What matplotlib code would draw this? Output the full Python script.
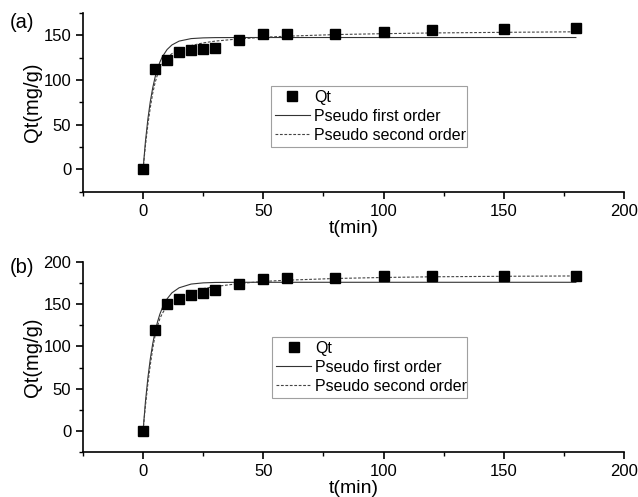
import matplotlib
matplotlib.use("Agg")
import matplotlib.pyplot as plt
from matplotlib.ticker import MultipleLocator

plt.rcParams['font.family'] = ['Liberation Sans', 'DejaVu Sans']

# ---- measured points ----
t_data = [0, 5, 10, 15, 20, 25, 30, 40, 50, 60, 80, 100, 120, 150, 180]
qt_a = [0, 112, 122.5, 131.7, 133, 134.7, 135.8, 144.4, 151, 151, 151.5, 154, 155.6, 157, 158.6]
qt_b = [0, 119.4, 149.8, 156.4, 161.1, 163.9, 166.7, 174.4, 180, 181.5, 181.5, 183, 183, 183, 183.5]

# ---- fitted curves ----
t_fit = [0, 1, 2, 3, 4, 5, 6, 7, 8, 10, 12, 15, 20, 25, 30, 40, 50, 60, 80, 100, 120, 150, 180]
first_a = [0, 31.5, 56.2, 75.7, 91.0, 103.1, 112.6, 120.0, 125.9, 134.1, 139.2, 143.5, 146.3, 147.1,
           147.4, 147.5, 147.5, 147.5, 147.5, 147.5, 147.5, 147.5, 147.5]
second_a = [0, 27, 50, 69, 85, 97, 106, 113, 118, 125, 129.5, 134, 138.5, 141.5,
            143.5, 146, 147.8, 149, 150.8, 151.8, 152.6, 153.3, 153.9]
first_b = [0, 34.8, 62.6, 85.0, 102.9, 117.4, 129.0, 138.3, 145.7, 156.4, 163.5, 169.5, 173.9, 175.3,
           175.8, 176, 176, 176, 176, 176, 176, 176, 176]
second_b = [0, 30, 56, 78, 97, 113, 124, 133, 139, 148, 153.5, 159, 164.5, 168.5,
            171, 174.5, 177, 178.5, 180.5, 181.7, 182.5, 183.1, 183.5]

panels = [
    ("(a)", qt_a, first_a, second_a, (-25, 175), [0.130, 0.614, 0.848, 0.360], (0.347, 0.251, 0.363, 0.341)),
    ("(b)", qt_b, first_b, second_b, (-25, 200), [0.130, 0.0905, 0.848, 0.3823], (0.350, 0.284, 0.360, 0.321)),
]

fig = plt.figure(figsize=(6.38, 4.97), dpi=100)

for tag, qt, f1, f2, ylim, rect, legbox in panels:
    ax = fig.add_axes(rect)
    ax.plot(t_data, qt, 's', color='black', ms=6.5, label='Qt', zorder=3)
    ax.plot(t_fit, f1, '-', color='#333333', lw=0.8, label='Pseudo first order')
    ax.plot(t_fit, f2, '--', color='#444444', lw=0.8, dashes=(2.5, 1.5), label='Pseudo second order')

    ax.set_xlim(-25, 200)
    ax.set_ylim(*ylim)
    ax.set_xticks([0, 50, 100, 150, 200])
    ax.set_yticks([v for v in [0, 50, 100, 150, 200] if v <= ylim[1]])
    ax.xaxis.set_minor_locator(MultipleLocator(25))
    ax.yaxis.set_minor_locator(MultipleLocator(25))
    ax.spines['top'].set_visible(False)
    ax.spines['right'].set_visible(False)
    for s in ('left', 'bottom'):
        ax.spines[s].set_linewidth(1.2)
    ax.tick_params(which='major', direction='out', length=5, width=1.2, labelsize=12)
    ax.tick_params(which='minor', direction='out', length=3, width=1.0)
    ax.set_xlabel('t(min)', fontsize=14, labelpad=1)
    ax.set_ylabel('Qt(mg/g)', fontsize=14.5, labelpad=1)

    leg = ax.legend(loc='upper left', bbox_to_anchor=legbox, mode='expand', fontsize=11.5,
                    frameon=True, fancybox=False, edgecolor='#888888', handlelength=2.2,
                    handletextpad=0.25, borderpad=0.25, labelspacing=0.25, borderaxespad=0)
    leg.get_frame().set_linewidth(0.8)

fig.text(0.015, 0.955, '(a)', fontsize=14.5, va='center')
fig.text(0.015, 0.462, '(b)', fontsize=14.5, va='center')

fig.savefig('out.png', dpi=100)
